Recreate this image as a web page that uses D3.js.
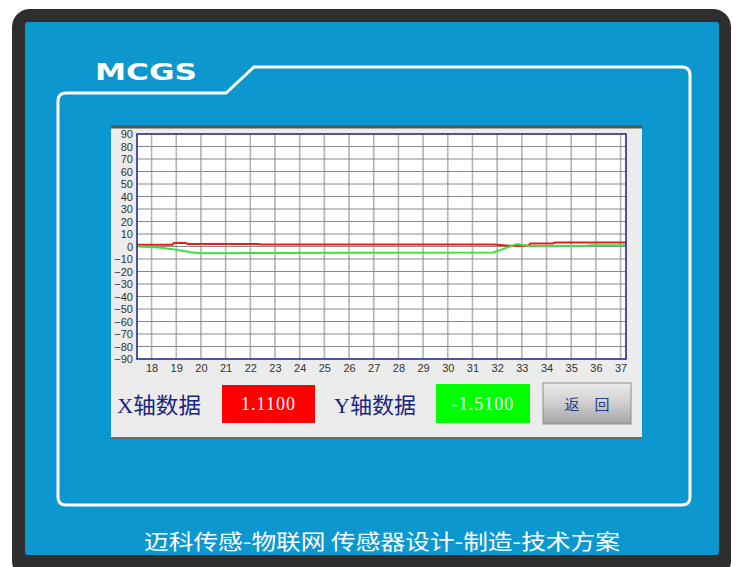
<!DOCTYPE html>
<html>
<head>
<meta charset="utf-8">
<script src="https://cdn.jsdelivr.net/npm/d3@7"></script>
<style>
  html, body { margin: 0; padding: 0; background: #ffffff; }
  svg { display: block; }
</style>
</head>
<body>
<svg id="chart" width="739" height="567"></svg>
<script>
// trend curve data (time in s, value)
const xTicks = d3.range(18, 38);
const yTicks = d3.range(-90, 91, 10);

const redTime  = [17.41, 18.85, 18.9, 19.4, 19.45, 22.35, 22.45, 31.85, 32.5, 33.25, 33.35, 34.25, 34.35, 37.22];
const redValue = [1.4, 1.4, 2.8, 2.8, 2.0, 2.0, 1.6, 1.6, 0.6, 0.6, 2.4, 2.4, 3.2, 3.2];

const greenTime  = [17.41, 18.3, 19.0, 19.6, 20.0, 26.0, 31.85, 32.8, 33.3, 35.6, 35.8, 37.22];
const greenValue = [0, -0.8, -2.6, -4.6, -5.3, -5.0, -4.8, 2.0, 0.4, 0.4, 1.0, 1.0];

const xLabel = 'X轴数据';
const yLabel = 'Y轴数据';
const xReading = '1.1100';
const yReading = '-1.5100';
const footer = '迈科传感-物联网 传感器设计-制造-技术方案';

const svg = d3.select('#chart');
const defs = svg.append('defs');

// device frame
svg.append('rect')
    .attr('x', 12).attr('y', 9).attr('width', 719).attr('height', 570)
    .attr('rx', 18).attr('fill', '#2e2e2e');
svg.append('rect')
    .attr('x', 25).attr('y', 22).attr('width', 694).attr('height', 533)
    .attr('rx', 3).attr('fill', '#0c98cf');

// white outline with the notch behind the logo
const outline = d3.path();
outline.moveTo(58, 101);
outline.quadraticCurveTo(58, 93, 66, 93);
outline.lineTo(226, 93);
outline.lineTo(254, 67);
outline.lineTo(682, 67);
outline.quadraticCurveTo(690, 67, 690, 75);
outline.lineTo(690, 497);
outline.quadraticCurveTo(690, 505, 682, 505);
outline.lineTo(66, 505);
outline.quadraticCurveTo(58, 505, 58, 497);
outline.closePath();
svg.append('path').attr('d', outline.toString())
    .attr('fill', 'none').attr('stroke', '#ffffff').attr('stroke-width', 3);

svg.append('text')
    .attr('x', 95).attr('y', 80)
    .attr('textLength', 102).attr('lengthAdjust', 'spacingAndGlyphs')
    .attr('font-family', 'DejaVu Sans').attr('font-weight', 'bold')
    .attr('font-size', 23).attr('fill', '#ffffff')
    .text('MCGS');

svg.append('text')
    .attr('x', 144).attr('y', 549)
    .attr('textLength', 476).attr('lengthAdjust', 'spacingAndGlyphs')
    .attr('font-family', 'Noto Sans CJK SC').attr('font-size', 21)
    .attr('fill', '#ffffff')
    .text(footer);

// screen panel
svg.append('rect')
    .attr('x', 111).attr('y', 126).attr('width', 531).attr('height', 312)
    .attr('fill', '#ececec');
svg.append('line')
    .attr('x1', 111).attr('x2', 642).attr('y1', 127).attr('y2', 127)
    .attr('stroke', '#555555').attr('stroke-width', 3);
svg.append('line')
    .attr('x1', 111).attr('x2', 642).attr('y1', 438).attr('y2', 438)
    .attr('stroke', '#6a6a6a').attr('stroke-width', 2);

// plot
const plotLeft = 137, plotRight = 626, plotTop = 134, plotBottom = 359;
const x = d3.scaleLinear().domain([17.41, 37.22]).range([plotLeft, plotRight]);
const y = d3.scaleLinear().domain([-90, 90]).range([plotBottom, plotTop]);

svg.append('rect')
    .attr('x', plotLeft).attr('y', plotTop)
    .attr('width', plotRight - plotLeft).attr('height', plotBottom - plotTop)
    .attr('fill', '#ffffff');

const grid = svg.append('g');
grid.selectAll('line.v').data(xTicks).join('line')
    .attr('class', 'v')
    .attr('x1', d => x(d)).attr('x2', d => x(d))
    .attr('y1', plotTop).attr('y2', plotBottom)
    .attr('stroke', '#b4b4b4').attr('stroke-width', 1.6);
grid.selectAll('line.h').data(yTicks.filter(d => d > -90 && d < 90)).join('line')
    .attr('class', 'h')
    .attr('x1', plotLeft).attr('x2', plotRight)
    .attr('y1', d => y(d)).attr('y2', d => y(d))
    .attr('stroke', '#8a8a8a').attr('stroke-width', 1);

const line = d3.line().x(d => x(d[0])).y(d => y(d[1]));
svg.append('path')
    .datum(d3.zip(redTime, redValue))
    .attr('d', line)
    .attr('fill', 'none').attr('stroke', '#e81c1c').attr('stroke-width', 2);
svg.append('path')
    .datum(d3.zip(greenTime, greenValue))
    .attr('d', line)
    .attr('fill', 'none').attr('stroke', '#3ee03e').attr('stroke-width', 2);

svg.append('rect')
    .attr('x', plotLeft).attr('y', plotTop)
    .attr('width', plotRight - plotLeft).attr('height', plotBottom - plotTop)
    .attr('fill', 'none').attr('stroke', '#2a2a90').attr('stroke-width', 1.6);

const fmt = d => String(d).replace('-', '\u2212');
const yAxis = d3.axisLeft(y).tickValues(yTicks).tickSize(0).tickPadding(4).tickFormat(fmt);
const yg = svg.append('g').attr('transform', `translate(${plotLeft},0)`).call(yAxis);
yg.select('.domain').remove();
yg.selectAll('text')
    .attr('font-family', 'Liberation Sans').attr('font-size', 11).attr('fill', '#333333')
    .attr('dy', '0.35em');

const xAxis = d3.axisBottom(x).tickValues(xTicks).tickSize(0).tickPadding(5).tickFormat(d => d);
const xg = svg.append('g').attr('transform', `translate(0,${plotBottom})`).call(xAxis);
xg.select('.domain').remove();
xg.selectAll('text')
    .attr('font-family', 'Liberation Sans').attr('font-size', 11).attr('fill', '#333333');

// readouts
const labelFont = "'Liberation Serif', 'Noto Sans CJK SC'";
svg.append('text')
    .attr('x', 117).attr('y', 413)
    .attr('font-family', labelFont).attr('font-size', 22).attr('fill', '#1a2580')
    .attr('textLength', 84).attr('lengthAdjust', 'spacingAndGlyphs')
    .text(xLabel);
svg.append('text')
    .attr('x', 334).attr('y', 413)
    .attr('font-family', labelFont).attr('font-size', 22).attr('fill', '#1a2580')
    .attr('textLength', 82).attr('lengthAdjust', 'spacingAndGlyphs')
    .text(yLabel);

svg.append('rect')
    .attr('x', 222).attr('y', 385).attr('width', 93).attr('height', 38)
    .attr('fill', '#ff0000');
svg.append('text')
    .attr('x', 268.5).attr('y', 410).attr('text-anchor', 'middle')
    .attr('font-family', 'Liberation Serif').attr('font-size', 18).attr('fill', '#ffffff')
    .attr('letter-spacing', 1)
    .text(xReading);

svg.append('rect')
    .attr('x', 436).attr('y', 384).attr('width', 94).attr('height', 39)
    .attr('fill', '#00ff00');
svg.append('text')
    .attr('x', 483).attr('y', 410).attr('text-anchor', 'middle')
    .attr('font-family', 'Liberation Serif').attr('font-size', 18).attr('fill', '#ffffff')
    .attr('letter-spacing', 1)
    .text(yReading);

// return button
const grad = defs.append('linearGradient').attr('id', 'btn')
    .attr('x1', 0).attr('y1', 0).attr('x2', 0).attr('y2', 1);
grad.append('stop').attr('offset', '0%').attr('stop-color', '#ececec');
grad.append('stop').attr('offset', '45%').attr('stop-color', '#d2d2d2');
grad.append('stop').attr('offset', '100%').attr('stop-color', '#a4a4a4');
svg.append('rect')
    .attr('x', 543).attr('y', 383).attr('width', 88).attr('height', 41)
    .attr('fill', 'url(#btn)').attr('stroke', '#8c8c8c').attr('stroke-width', 1);
svg.append('text')
    .attr('x', 587).attr('y', 410).attr('text-anchor', 'middle')
    .attr('font-family', 'Noto Sans CJK SC').attr('font-size', 15).attr('fill', '#2a3a8a')
    .text('返\u3000回');
</script>
</body>
</html>
